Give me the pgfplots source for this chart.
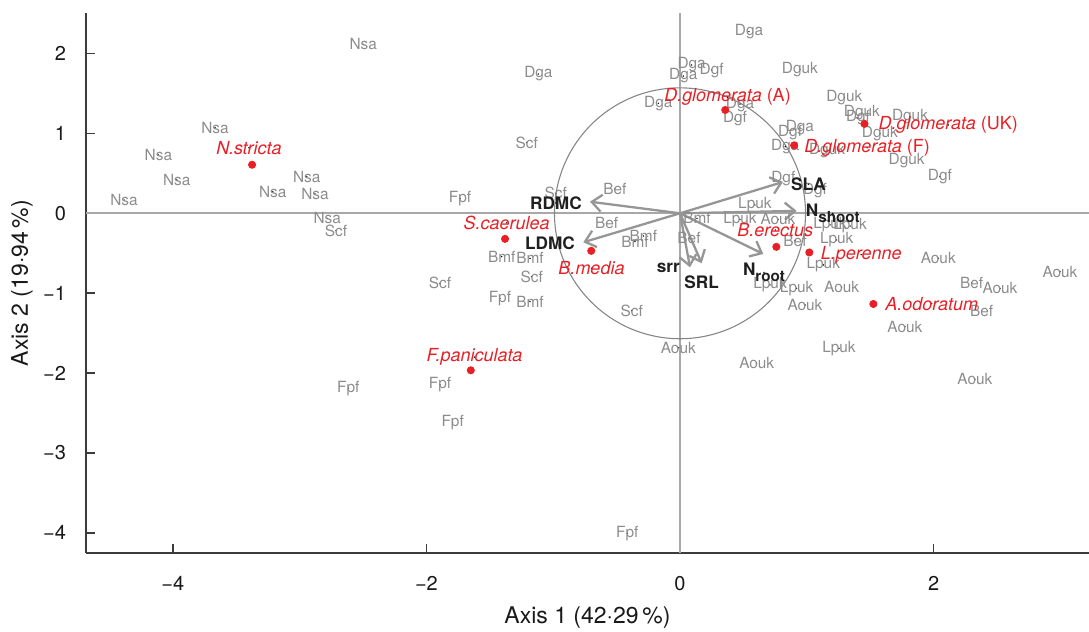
\documentclass[border=0pt]{standalone}
\usepackage{fontspec}
\setmainfont{TeX Gyre Heros}
\usepackage{pgfplots}
\pgfplotsset{compat=1.18}
\usepackage{pgfplotstable}
\usetikzlibrary{arrows.meta}

\definecolor{lab}{RGB}{140,140,140}
\definecolor{arr}{RGB}{150,150,150}
\definecolor{xline}{RGB}{168,168,168}
\definecolor{circc}{RGB}{135,135,135}
\definecolor{spred}{RGB}{232,32,38}
\definecolor{axc}{RGB}{60,60,60}

\newcommand{\sub}[1]{\raisebox{-3.2pt}{\fontsize{7.6}{8}\selectfont #1}}

% observation scores (label centres)
\pgfplotstableread[col sep=comma]{
x,y,t
-3.667,1.071,Nsa
-4.114,0.730,Nsa
-3.969,0.417,Nsa
-4.385,0.166,Nsa
-2.944,0.458,Nsa
-3.212,0.270,Nsa
-2.879,0.242,Nsa
-2.782,-0.063,Nsa
-2.713,-0.218,Scf
-2.498,2.115,Nsa
-1.117,1.743,Dga
-1.209,0.884,Scf
-1.735,0.188,Fpf
-0.980,0.250,Scf
-0.513,0.304,Bef
-0.578,-0.125,Bef
-0.289,-0.284,Bmf
-0.355,-0.355,Bmf
0.026,1.718,Dga
0.092,1.856,Dga
0.250,1.793,Dgf
-0.171,1.377,Dga
0.544,2.273,Dga
0.434,1.180,Dgf
0.473,1.367,Dga
0.946,1.802,Dguk
1.296,1.452,Dguk
1.435,1.255,Dguk
1.404,1.193,Dgf
1.814,1.209,Dguk
1.577,1.001,Dguk
1.788,0.658,Dguk
2.050,0.458,Dgf
0.946,1.068,Dga
0.868,1.005,Dgf
0.830,0.834,Dga
1.160,0.790,Dguk
0.815,0.438,Dgf
1.065,0.283,Dgf
0.591,0.104,Lpuk
0.473,-0.075,Lpuk
0.773,-0.075,Aouk
1.183,-0.146,Lpuk
1.341,-0.159,Lpuk
0.134,-0.063,Bmf
0.071,-0.313,Bef
0.907,-0.343,Bef
1.236,-0.334,Lpuk
1.130,-0.647,Lpuk
2.037,-0.563,Aouk
2.997,-0.731,Aouk
2.300,-0.869,Bef
2.524,-0.939,Aouk
2.379,-1.223,Bef
0.710,-0.897,Lpuk
0.920,-0.939,Lpuk
1.275,-0.926,Aouk
0.986,-1.148,Aouk
1.774,-1.419,Aouk
1.254,-1.690,Lpuk
0.605,-1.877,Aouk
2.326,-2.078,Aouk
-0.013,-1.682,Aouk
-1.406,-0.543,Bmf
-1.183,-0.563,Bmf
-1.170,-0.793,Scf
-1.893,-0.876,Scf
-1.420,-1.064,Fpf
-1.183,-1.106,Bmf
-0.381,-1.219,Scf
-1.893,-2.149,Fpf
-2.616,-2.190,Fpf
-1.793,-2.621,Fpf
-0.416,-4.005,Fpf
}\obs

% species centroids
\pgfplotstableread[col sep=comma]{
x,y
-3.375,0.608
0.357,1.293
1.455,1.120
0.900,0.850
-1.380,-0.320
-0.700,-0.470
-1.650,-1.965
0.760,-0.420
1.020,-0.490
1.525,-1.135
}\cent

% species labels (centres)
\pgfplotstableread[col sep=comma]{
x,y,t
-3.400,0.820,N.stricta
0.375,1.455,D.glomerata \textup{(A)}
2.116,1.105,D.glomerata \textup{(UK)}
1.476,0.820,D.glomerata \textup{(F)}
-1.367,-0.120,S.caerulea
-0.698,-0.688,B.media
-1.621,-1.801,F.paniculata
0.752,-0.209,B.erectus
1.429,-0.518,L.perenne
1.985,-1.131,A.odoratum
}\spl

% trait labels (centres)
\pgfplotstableread[col sep=comma]{
x,y,t
-0.979,0.129,RDMC
-1.025,-0.372,LDMC
1.013,0.364,SLA
1.205,0.000,N\sub{shoot}
0.662,-0.740,N\sub{root}
-0.092,-0.678,srr
0.171,-0.866,SRL
}\trl

\begin{document}
\begin{tikzpicture}
\begin{axis}[
  name=ax,
  scale only axis,
  width=501.5pt, height=270pt,
  xmin=-4.685, xmax=3.226,
  ymin=-4.252, ymax=2.507,
  clip=false,
  axis x line*=bottom,
  axis y line*=left,
  axis line style={axc, line width=0.7pt},
  tick align=inside,
  major tick length=4.5pt,
  tick style={axc, line width=0.7pt},
  xtick={-4,-2,0,2},
  xticklabels={−4,−2,0,2},
  ytick={-4,-3,-2,-1,0,1,2},
  yticklabels={−4,−3,−2,−1,0,1,2},
  ticklabel style={font=\fontsize{10}{12}\selectfont, text=black!90},
  xticklabel style={yshift=-8.3pt},
  yticklabel style={xshift=-6.5pt},
  xlabel={Axis 1 (42·29\,\%)},
  ylabel={Axis 2 (19·94\,\%)},
  label style={font=\fontsize{11.5}{13}\selectfont, text=black!90},
  xlabel style={at={(axis description cs:0.5,-0.1204)}, anchor=center},
  ylabel style={at={(axis description cs:-0.0638,0.5)}, anchor=center},
]
% cross-hair lines
\addplot[xline, line width=0.9pt] coordinates {(0,-4.252) (0,2.507)};
\addplot[xline, line width=0.9pt] coordinates {(-4.685,0) (3.226,0)};
% correlation circle
\draw[circc, line width=0.55pt] (axis cs:0,0) ellipse [x radius=0.99, y radius=1.57];

% observation labels
\addplot[only marks, mark=*, mark size=0.1pt, mark options={draw=none, fill=none},
  nodes near coords, point meta=explicit symbolic,
  nodes near coords style={anchor=center, inner sep=0pt, text=lab,
    font=\fontsize{7.7}{8.5}\selectfont}]
  table[x=x, y=y, meta=t] {\obs};

% trait arrows
\pgfplotsset{trait/.style={arr, line width=1.15pt, -{Straight Barb[length=5pt, width=8.5pt]}}}
\addplot[trait] coordinates {(0,0) (-0.710,0.145)};
\addplot[trait] coordinates {(0,0) (-0.763,-0.363)};
\addplot[trait] coordinates {(0,0) (0.812,0.392)};
\addplot[trait] coordinates {(0,0) (0.920,0.030)};
\addplot[trait] coordinates {(0,0) (0.657,-0.509)};
\addplot[trait] coordinates {(0,0) (0.079,-0.676)};
\addplot[trait] coordinates {(0,0) (0.171,-0.626)};

% species centroids
\addplot[only marks, mark=*, mark size=1.8pt, spred, mark options={draw=none, fill=spred}]
  table[x=x, y=y] {\cent};
\addplot[only marks, mark=*, mark size=0.1pt, mark options={draw=none, fill=none},
  nodes near coords, point meta=explicit symbolic,
  nodes near coords style={anchor=center, inner sep=0pt, text=spred,
    font=\fontsize{9}{10}\selectfont\itshape}]
  table[x=x, y=y, meta=t] {\spl};

% trait labels
\addplot[only marks, mark=*, mark size=0.1pt, mark options={draw=none, fill=none},
  nodes near coords, point meta=explicit symbolic,
  nodes near coords style={anchor=center, inner sep=0pt, text=black!88,
    font=\fontsize{8.6}{10}\selectfont\bfseries}]
  table[x=x, y=y, meta=t] {\trl};
\end{axis}
\pgfresetboundingbox
\path ([xshift=-43pt,yshift=-39pt]ax.south west) rectangle ([yshift=6.5pt]ax.north east);
\end{tikzpicture}
\end{document}
